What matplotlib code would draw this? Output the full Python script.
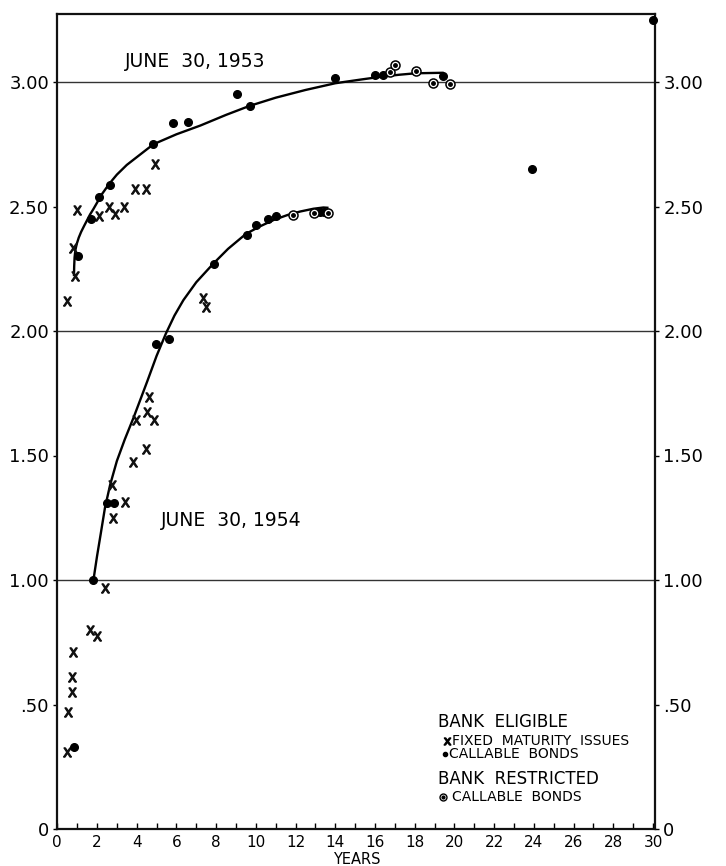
import matplotlib
matplotlib.use("Agg")
import matplotlib.pyplot as plt

# ---------------- data (years to maturity, yield %) ----------------
# June 30, 1953 - bank eligible, fixed maturity issues (X)
fix53_x = [0.5, 0.78, 0.87, 1.01, 2.08, 2.62, 2.91, 3.36, 3.92, 4.47, 4.93]
fix53_y = [2.12, 2.335, 2.22, 2.485, 2.46, 2.50, 2.47, 2.50, 2.57, 2.57, 2.67]
# June 30, 1953 - bank eligible, callable bonds (filled dots)
call53_x = [1.06, 1.68, 2.08, 2.66, 4.84, 5.85, 6.56, 9.05, 9.68, 14.0, 16.0, 16.4, 19.4, 23.92, 30.0]
call53_y = [2.30, 2.45, 2.54, 2.585, 2.75, 2.835, 2.84, 2.95, 2.905, 3.015, 3.03, 3.03, 3.025, 2.65, 3.25]
# June 30, 1953 - bank restricted, callable bonds (circled dots)
res53_x = [16.75, 17.03, 18.04, 18.93, 19.77]
res53_y = [3.04, 3.07, 3.045, 2.995, 2.99]
# June 30, 1953 fitted curve
curve53_x = [0.84, 0.85, 0.87, 0.91, 0.98, 1.08, 1.2, 1.35, 1.5, 1.65, 1.82, 2.0, 2.25, 2.5, 2.75,
             3.0, 3.5, 4.0, 4.84, 6.0, 7.2, 8.5, 9.68, 11.0, 12.5, 14.0, 15.3, 16.3, 17.2, 18.04, 19.4]
curve53_y = [2.225, 2.26, 2.295, 2.325, 2.35, 2.375, 2.398, 2.422, 2.445, 2.468, 2.49, 2.515, 2.55,
             2.578, 2.604, 2.628, 2.667, 2.698, 2.75, 2.79, 2.825, 2.868, 2.904, 2.937, 2.968, 2.995,
             3.01, 3.021, 3.029, 3.035, 3.037]

# June 30, 1954 - bank eligible, fixed maturity issues (X)
fix54_x = [2.41, 2.82, 3.41, 2.74, 3.83, 4.47, 3.97, 4.54, 4.88, 4.64, 7.33, 7.5,
           1.65, 1.99, 0.81, 0.73, 0.73, 0.56, 0.47]
fix54_y = [0.967, 1.248, 1.315, 1.382, 1.475, 1.525, 1.643, 1.676, 1.643, 1.736, 2.131, 2.098,
           0.80, 0.775, 0.712, 0.612, 0.551, 0.471, 0.31]
# June 30, 1954 - bank eligible, callable bonds
call54_x = [1.82, 2.49, 2.86, 4.98, 5.65, 7.87, 9.55, 10.02, 10.59, 11.03, 13.25, 13.41, 0.84]
call54_y = [1.0, 1.308, 1.308, 1.948, 1.967, 2.271, 2.386, 2.426, 2.448, 2.462, 2.479, 2.479, 0.33]
# June 30, 1954 - bank restricted, callable bonds
res54_x = [11.87, 12.91, 13.63]
res54_y = [2.466, 2.475, 2.475]
# June 30, 1954 fitted curve
curve54_x = [1.82, 2.0, 2.19, 2.4, 2.66, 3.0, 3.4, 3.83, 4.2, 4.54, 5.0, 5.47, 5.9, 6.35, 7.0,
             7.85, 8.6, 9.5, 10.2, 10.9, 11.6, 12.24, 12.9, 13.4, 13.6]
curve54_y = [1.0, 1.095, 1.187, 1.29, 1.382, 1.478, 1.565, 1.65, 1.728, 1.8, 1.9, 1.99, 2.062,
             2.124, 2.196, 2.27, 2.33, 2.39, 2.42, 2.446, 2.466, 2.48, 2.491, 2.496, 2.495]

ytick_vals = [0, 0.5, 1.0, 1.5, 2.0, 2.5, 3.0]
ytick_labels = ["0", ".50", "1.00", "1.50", "2.00", "2.50", "3.00"]
xtick_major = list(range(0, 31, 2))
xtick_minor = list(range(1, 30, 2))

# ---------------- figure ----------------
W, H = 726, 866
fig = plt.figure(figsize=(W / 100, H / 100), dpi=100)
L, R, B, T = 57.3, 655, 829, 14
ax = fig.add_axes([L / W, 1 - B / H, (R - L) / W, (B - T) / H])
ax.set_xlim(0, 30.1)
ax.set_ylim(0, (B - T) / 249.0)

for s in ax.spines.values():
    s.set_linewidth(1.6)
    s.set_color("#111111")

for yv in [1.0, 2.0, 3.0]:
    ax.axhline(yv, color="#333333", lw=1.0, zorder=1)

ax.plot(curve53_x, curve53_y, color="black", lw=1.7, zorder=2, solid_joinstyle="round")
ax.plot(curve54_x, curve54_y, color="black", lw=1.7, zorder=2, solid_joinstyle="round")

xm = r"$\mathsf{X}$"
for fx, fy in [(fix53_x, fix53_y), (fix54_x, fix54_y)]:
    ax.plot(fx, fy, ls="none", marker=xm, ms=6.5, color="#111111", zorder=3)
for cx, cy in [(call53_x, call53_y), (call54_x, call54_y)]:
    ax.plot(cx, cy, ls="none", marker="o", ms=5.5, color="black", zorder=4, clip_on=False)
for rx, ry in [(res53_x, res53_y), (res54_x, res54_y)]:
    ax.plot(rx, ry, ls="none", marker="o", ms=6.5, mfc="white", mec="black", mew=1.1, zorder=4)
    ax.plot(rx, ry, ls="none", marker="o", ms=2.5, color="black", zorder=5)

# ticks
ax.set_xticks(xtick_major)
ax.set_xticklabels([str(v) for v in xtick_major])
ax.set_xticks(xtick_minor, minor=True)
ax.tick_params(axis="x", which="both", direction="in", length=4, width=1.0,
               labelsize=11, pad=4, top=False)
ax.set_yticks(ytick_vals)
ax.set_yticklabels(ytick_labels)
ax.tick_params(axis="y", which="both", direction="out", length=3, width=1.0,
               labelsize=13, pad=3, left=True, right=True, labelleft=True, labelright=True)

# annotations
ax.text(3.4, 3.045, "JUNE  30, 1953", fontsize=13.5, ha="left", va="bottom")
ax.text(5.2, 1.24, "JUNE  30, 1954", fontsize=13.5, ha="left", va="center")

# legend block
ax.text(19.15, 0.43, "BANK  ELIGIBLE", fontsize=12, ha="left", va="center")
ax.plot([19.6], [0.353], ls="none", marker=r"$\mathsf{x}$", ms=5, color="black")
ax.text(19.9, 0.353, "FIXED  MATURITY  ISSUES", fontsize=10, ha="left", va="center")
ax.plot([19.5], [0.30], ls="none", marker="o", ms=3, color="black")
ax.text(19.75, 0.30, "CALLABLE  BONDS", fontsize=10, ha="left", va="center")
ax.text(19.15, 0.20, "BANK  RESTRICTED", fontsize=12, ha="left", va="center")
ax.plot([19.4], [0.128], ls="none", marker="o", ms=5, mfc="white", mec="black", mew=1.0)
ax.plot([19.4], [0.128], ls="none", marker="o", ms=2, color="black")
ax.text(19.9, 0.128, "CALLABLE  BONDS", fontsize=10, ha="left", va="center")

fig.text(357 / W, 1 - 852 / H, "YEARS", fontsize=10.5, ha="center", va="top")

fig.savefig("out.png", dpi=100, facecolor="white")
